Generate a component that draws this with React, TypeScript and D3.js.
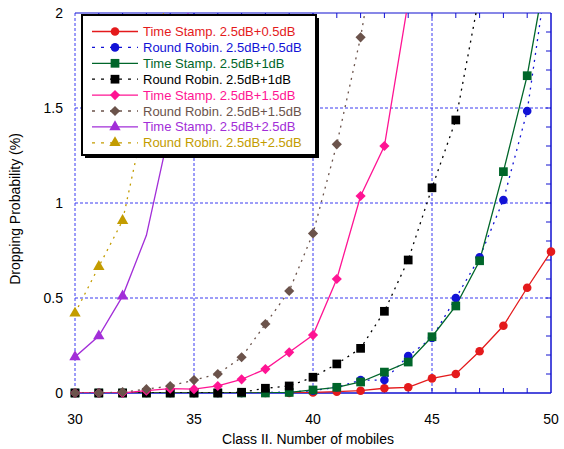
import * as d3 from 'd3';

// Class II number of mobiles (x axis)
const mobiles = [30, 31, 32, 33, 34, 35, 36, 37, 38, 39, 40, 41, 42, 43, 44, 45, 46, 47, 48, 49, 50];

// Dropping probability (%) per scheme, null = off the chart
const tsHalf = [0, 0, 0, 0, 0, 0, 0, 0, 0, 0, 0.003, 0.007, 0.012, 0.025, 0.03, 0.077, 0.1, 0.22, 0.354, 0.554, 0.744];
const rrHalf = [0, 0, 0, 0, 0, 0, 0, 0, 0.002, 0.005, 0.012, 0.03, 0.068, 0.068, 0.195, 0.29, 0.5, 0.714, 1.016, 1.484, 2.35];
const tsOne = [0, 0, 0, 0, 0, 0, 0, 0, 0, 0.003, 0.016, 0.03, 0.058, 0.11, 0.163, 0.296, 0.458, 0.696, 1.165, 1.67, 2.37];
const rrOne = [0, 0, 0, 0, 0, 0, 0, 0.004, 0.025, 0.037, 0.083, 0.153, 0.235, 0.43, 0.7, 1.08, 1.437, 2.1, null, null, null];
const tsOneHalf = [0, 0, 0, 0.012, 0.023, 0.02, 0.037, 0.072, 0.126, 0.214, 0.305, 0.6, 1.037, 1.3, 2.06, null, null, null, null, null, null];
const rrOneHalf = [0, 0, 0.005, 0.02, 0.037, 0.068, 0.1, 0.188, 0.363, 0.537, 0.84, 1.309, 1.872, 2.6, null, null, null, null, null, null, null];
const tsTwoHalf = [0.19, 0.3, 0.51, 0.83, 1.4, 2.2, null, null, null, null, null, null, null, null, null, null, null, null, null, null, null];
const rrTwoHalf = [0.42, 0.665, 0.907, 1.49, 2.2, null, null, null, null, null, null, null, null, null, null, null, null, null, null, null, null];

const xTicks = [30, 35, 40, 45, 50];
const yTicks = [0, 0.5, 1, 1.5, 2];

type Series = {
  label: string;
  values: (number | null)[];
  color: string;
  dashed: boolean;
  symbol: d3.SymbolType;
  size: number;
  marked?: number; // only the first n points carry a marker
};

const series: Series[] = [
  { label: 'Time Stamp. 2.5dB+0.5dB', values: tsHalf, color: '#e41a1c', dashed: false, symbol: d3.symbolCircle, size: 58 },
  { label: 'Round Robin. 2.5dB+0.5dB', values: rrHalf, color: '#1212d6', dashed: true, symbol: d3.symbolCircle, size: 58 },
  { label: 'Time Stamp. 2.5dB+1dB', values: tsOne, color: '#00662a', dashed: false, symbol: d3.symbolSquare, size: 76 },
  { label: 'Round Robin. 2.5dB+1dB', values: rrOne, color: '#000000', dashed: true, symbol: d3.symbolSquare, size: 76 },
  { label: 'Time Stamp. 2.5dB+1.5dB', values: tsOneHalf, color: '#ff1493', dashed: false, symbol: d3.symbolDiamond2, size: 66 },
  { label: 'Round Robin. 2.5dB+1.5dB', values: rrOneHalf, color: '#6b534b', dashed: true, symbol: d3.symbolDiamond2, size: 66 },
  { label: 'Time Stamp. 2.5dB+2.5dB', values: tsTwoHalf, color: '#a22ed8', dashed: false, symbol: d3.symbolTriangle, size: 56, marked: 3 },
  { label: 'Round Robin. 2.5dB+2.5dB', values: rrTwoHalf, color: '#c39c00', dashed: true, symbol: d3.symbolTriangle, size: 56 },
];

const W = 564;
const H = 449;
const left = 75, right = 551, top = 13, bottom = 393;
const axisBlue = '#1010d0';
const gridBlue = '#3a3af0';
const font = '"Liberation Sans", Arial, sans-serif';

export default function App() {
  const x = d3.scaleLinear().domain([30, 50]).range([left, right]);
  const y = d3.scaleLinear().domain([0, 2]).range([bottom, top]);

  const line = d3.line<number | null>()
    .defined(d => d !== null)
    .x((_, i) => x(mobiles[i]))
    .y(d => y(d as number));

  const minorX = d3.range(31, 50);
  const minorY = d3.range(1, 20).map(v => v / 10);

  return (
    <svg width={W} height={H} style={{ position: 'absolute', left: 0, top: 0, background: '#fff' }} fontFamily={font}>
      <defs>
        <clipPath id="plot">
          <rect x={left} y={top} width={right - left} height={bottom - top} />
        </clipPath>
      </defs>

      {/* grid */}
      {[35, 40, 45].map(v => (
        <line key={'gx' + v} x1={x(v)} x2={x(v)} y1={top} y2={bottom} stroke={gridBlue} strokeDasharray="3,2" />
      ))}
      {[0.5, 1, 1.5].map(v => (
        <line key={'gy' + v} x1={left} x2={right} y1={y(v)} y2={y(v)} stroke={gridBlue} strokeDasharray="3,2" />
      ))}
      <line x1={left} x2={left} y1={top} y2={bottom} stroke={gridBlue} strokeDasharray="3,2" />

      {/* frame */}
      <line x1={left} x2={right} y1={bottom} y2={bottom} stroke={axisBlue} strokeWidth={1.5} />
      <line x1={left} x2={right} y1={top} y2={top} stroke={axisBlue} strokeWidth={1.2} />
      <line x1={right} x2={right} y1={top} y2={bottom} stroke={axisBlue} strokeWidth={1.5} />
      {minorX.map(v => (
        <g key={'tx' + v}>
          <line x1={x(v)} x2={x(v)} y1={bottom} y2={bottom - 5} stroke={axisBlue} />
          <line x1={x(v)} x2={x(v)} y1={top} y2={top + 5} stroke={axisBlue} />
        </g>
      ))}
      {minorY.map(v => (
        <line key={'ty' + v} x1={right} x2={right - 5} y1={y(v)} y2={y(v)} stroke={axisBlue} />
      ))}

      {/* series */}
      <g clipPath="url(#plot)">
        {series.map(s => (
          <path key={s.label} d={line(s.values) || ''} fill="none" stroke={s.color}
            strokeWidth={1.3} strokeDasharray={s.dashed ? '2,5' : undefined} />
        ))}
      </g>
      <g>
        {series.map(s => (
          <g key={'m' + s.label}>
            {s.values.map((v, i) => {
              if (v === null || v > 2) return null;
              if (s.marked !== undefined && i >= s.marked) return null;
              return (
                <path key={i} d={d3.symbol(s.symbol, s.size)() || ''} fill={s.color}
                  transform={`translate(${x(mobiles[i])},${y(v)})`} />
              );
            })}
          </g>
        ))}
      </g>

      {/* tick labels */}
      {yTicks.map(v => (
        <text key={'yl' + v} x={63} y={y(v) + 5} textAnchor="end" fontSize={14} fill="#000">{v}</text>
      ))}
      {xTicks.map(v => (
        <text key={'xl' + v} x={x(v)} y={424} textAnchor="middle" fontSize={14} fill="#000">{v}</text>
      ))}
      <text x={308} y={444} textAnchor="middle" fontSize={14} fill="#000">Class II. Number of mobiles</text>
      <text transform="translate(20,209) rotate(-90)" textAnchor="middle" fontSize={14} fill="#000">Dropping Probability (%)</text>

      {/* legend */}
      <rect x={85} y={18} width={234} height={140} fill="#000" />
      <rect x={82} y={15} width={234} height={140} fill="#fff" stroke="#000" strokeWidth={2} />
      {series.map((s, i) => {
        const ly = 31.5 + i * 15.9;
        return (
          <g key={'lg' + s.label}>
            <line x1={92} x2={138} y1={ly} y2={ly} stroke={s.color} strokeWidth={1.3}
              strokeDasharray={s.dashed ? '3,6' : undefined} />
            <path d={d3.symbol(s.symbol, s.size)() || ''} fill={s.color} transform={`translate(115,${ly})`} />
            <text x={143} y={ly + 4.5} fontSize={13} fill={s.color}>{s.label}</text>
          </g>
        );
      })}
    </svg>
  );
}
